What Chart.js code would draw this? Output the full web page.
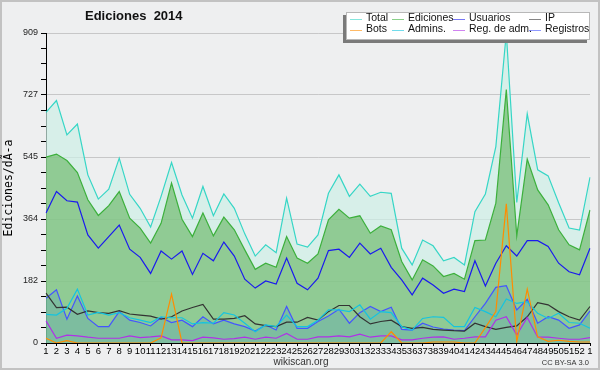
<!DOCTYPE html>
<html>
<head>
<meta charset="utf-8">
<script src="https://cdn.jsdelivr.net/npm/chart.js@4.4.1/dist/chart.umd.min.js"></script>
<style>
    html, body { margin: 0; padding: 0; background: #eeeff0; }
    #wrap { width: 600px; height: 370px; }
</style>
</head>
<body>
<div id="wrap"><canvas id="editsChart" width="600" height="370"></canvas></div>
<script>
// weeks of 2014 (last point is week 1 of the next year)
const weeks = ['1','2','3','4','5','6','7','8','9','10','11','12','13','14','15','16','17','18','19','20',
    '21','22','23','24','25','26','27','28','29','30','31','32','33','34','35','36','37','38','39','40',
    '41','42','43','44','45','46','47','48','49','50','51','52','1'];

const yMax = 909;
const yTickLabels = ['0', '182', '364', '545', '727', '909'];

const total = [676,711,610,642,493,422,451,542,436,395,340,430,529,434,366,459,373,437,395,320,
    255,288,265,425,290,281,317,439,493,430,466,430,442,439,278,229,302,285,241,251,
    229,385,437,576,909,412,672,508,490,411,337,331,486];
const ediciones = [545,554,535,500,420,374,403,444,366,337,293,351,469,363,312,381,314,369,332,273,
    216,234,222,312,249,234,261,361,392,366,373,322,343,332,239,185,244,226,195,204,
    187,300,302,410,743,314,539,449,405,332,288,273,390];
const usuarios = [381,444,417,413,317,278,312,346,275,251,204,270,246,270,201,263,241,296,255,187,
    161,182,173,249,175,156,190,271,275,251,293,261,278,222,185,141,190,170,146,158,
    151,241,167,234,285,255,300,300,283,234,209,200,278];
const ip = [146,104,105,84,94,89,87,95,85,82,79,70,77,94,104,113,70,70,72,80,
    56,51,48,61,61,75,67,92,110,110,77,56,63,67,48,43,46,40,38,36,
    35,58,48,40,46,50,77,118,112,92,77,67,107];
const bots = [14,0,7,0,0,0,0,0,0,0,0,15,143,0,0,0,0,0,0,0,
    0,0,0,0,0,0,0,0,0,0,0,0,0,33,0,0,0,3,3,3,
    0,0,45,92,408,4,158,18,5,8,5,3,3];
const admins = [84,82,102,158,82,90,82,89,74,67,60,77,74,74,56,60,58,89,82,58,
    33,53,48,82,48,48,67,97,97,92,112,70,92,89,48,38,72,77,75,48,
    48,104,92,77,129,116,121,87,72,87,60,58,43];
const regAdm = [65,14,23,21,17,14,14,14,21,16,18,21,9,9,7,17,15,11,13,17,
    11,17,14,28,11,11,18,18,21,18,26,17,21,21,9,9,14,17,18,11,
    14,18,18,67,77,23,75,17,17,14,11,11,16];
const registros = [131,156,70,138,72,48,48,92,67,60,50,75,60,67,48,77,56,67,56,48,
    35,53,38,107,43,43,63,79,99,58,89,107,92,105,40,38,58,47,41,38,
    36,77,116,163,168,97,128,58,77,67,43,53,94];

const legendRows = [
    ['Total', 'Ediciones', 'Usuarios', 'IP'],
    ['Bots', 'Admins.', 'Reg. de adm.', 'Registros']
];

const ctx = document.getElementById('editsChart').getContext('2d');

function line(label, data, color, order, extra) {
    return Object.assign({
        label: label,
        data: data,
        borderColor: color,
        borderWidth: 1.2,
        pointRadius: 0,
        tension: 0,
        fill: false,
        order: order
    }, extra || {});
}

// background, frame, title, boxed legend and footer
Chart.register({
    id: 'wikiscanDecor',
    beforeDraw(chart) {
        const c = chart.ctx;
        c.save();
        c.fillStyle = '#eeeff0';
        c.fillRect(0, 0, chart.width, chart.height);
        c.strokeStyle = '#c2c2c2';
        c.lineWidth = 2;
        c.strokeRect(1, 1, chart.width - 2, chart.height - 2);
        c.restore();
    },
    afterDraw(chart) {
        const c = chart.ctx;
        c.save();
        c.fillStyle = '#111';
        c.font = 'bold 13px "Liberation Sans", Arial, sans-serif';
        c.textBaseline = 'middle';
        c.textAlign = 'left';
        c.fillText('Ediciones  2014', 85, 16);

        // legend box with shadow
        c.fillStyle = '#7a7a7a';
        c.fillRect(343, 15, 244, 28);
        c.fillStyle = '#ffffff';
        c.fillRect(346.5, 12.5, 243, 27);
        c.strokeStyle = '#b8b8b8';
        c.lineWidth = 1;
        c.strokeRect(346.5, 12.5, 243, 27);

        const colX = [350, 392, 453, 529];
        const rowY = [18.5, 29.5];
        const byLabel = {};
        chart.data.datasets.forEach(ds => { byLabel[ds.label] = ds.borderColor; });
        c.font = '10.5px "Liberation Sans", Arial, sans-serif';
        legendRows.forEach((row, r) => {
            row.forEach((name, k) => {
                c.strokeStyle = byLabel[name];
                c.globalAlpha = 0.6;
                c.beginPath();
                c.moveTo(colX[k], Math.round(rowY[r]) + 0.5);
                c.lineTo(colX[k] + 12, Math.round(rowY[r]) + 0.5);
                c.stroke();
                c.globalAlpha = 1;
                c.fillStyle = '#111';
                c.fillText(name, colX[k] + 16, rowY[r]);
            });
        });

        c.fillStyle = '#333';
        c.textAlign = 'center';
        c.font = '10px "Liberation Sans", Arial, sans-serif';
        c.fillText('wikiscan.org', 301, 362);
        c.textAlign = 'right';
        c.font = '7.5px "Liberation Sans", Arial, sans-serif';
        c.fillText('CC BY-SA 3.0', 589, 362.5);
        c.restore();
    }
});

const editsChart = new Chart(ctx, {
    type: 'line',
    data: {
        labels: weeks,
        datasets: [
            line('Total', total, '#36d6c6', 10, { fill: 'origin', backgroundColor: 'rgba(205,240,230,0.7)' }),
            line('Ediciones', ediciones, '#3cb03c', 9, { fill: 'origin', backgroundColor: 'rgba(100,180,95,0.62)' }),
            line('Usuarios', usuarios, '#1a1aee', 6),
            line('IP', ip, '#333333', 5),
            line('Bots', bots, '#ff8c00', 1),
            line('Admins.', admins, '#14c4e0', 4),
            line('Reg. de adm.', regAdm, '#b030e8', 3),
            line('Registros', registros, '#4455ff', 8, { fill: 'origin', backgroundColor: 'rgba(40,130,210,0.18)' })
        ]
    },
    options: {
        responsive: false,
        animation: false,
        devicePixelRatio: 1,
        layout: {
            padding: { left: 0, right: 10, top: 33, bottom: 0 }
        },
        scales: {
            x: {
                afterFit(scale) { scale.height = 27; },
                ticks: {
                    color: '#000',
                    font: { family: '"Liberation Sans", Arial, sans-serif', size: 9.5 },
                    autoSkip: false,
                    maxRotation: 0,
                    minRotation: 0,
                    padding: 0
                },
                grid: {
                    drawOnChartArea: false,
                    tickLength: 3,
                    tickColor: '#000'
                },
                border: { color: '#000', width: 1 }
            },
            y: {
                min: 0,
                max: yMax,
                z: 1,
                afterFit(scale) { scale.width = 46; },
                afterBuildTicks(scale) {
                    scale.ticks = [];
                    for (let k = 0; k <= 20; k++) scale.ticks.push({ value: k * yMax / 20 });
                },
                title: {
                    display: true,
                    text: 'Ediciones/dÃ-a',
                    color: '#000',
                    padding: { top: 2, bottom: 0 },
                    font: { family: '"DejaVu Sans Mono", monospace', size: 11.5 }
                },
                ticks: {
                    color: '#222',
                    padding: 3,
                    font: { family: '"Liberation Sans", Arial, sans-serif', size: 9 },
                    callback: function(value, index) {
                        return index % 4 === 0 ? yTickLabels[index / 4] : '';
                    }
                },
                grid: {
                    color: c => (c.index % 4 === 0 ? 'rgba(150,150,150,0.45)' : 'rgba(0,0,0,0)'),
                    tickColor: '#000',
                    tickLength: 5
                },
                border: { color: '#000', width: 1 }
            }
        },
        plugins: {
            legend: { display: false },
            tooltip: { enabled: false }
        }
    }
});
</script>
</body>
</html>
